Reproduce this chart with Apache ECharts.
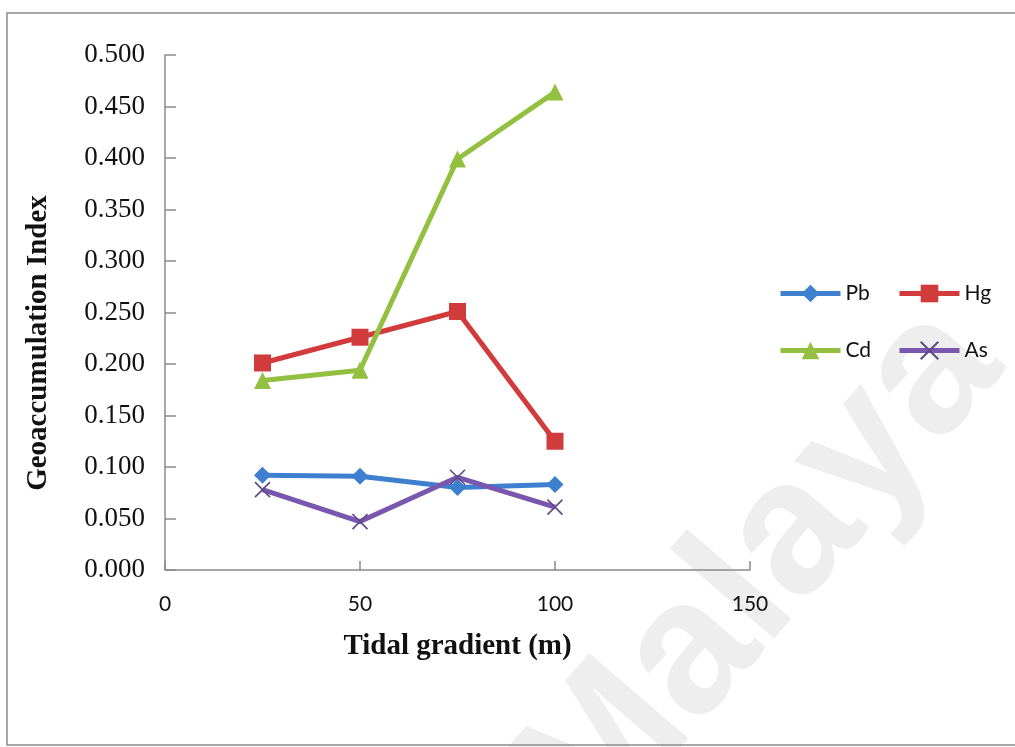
<!DOCTYPE html>
<html>
<head>
<meta charset="utf-8">
<script src="https://cdn.jsdelivr.net/npm/echarts@6/dist/echarts.min.js"></script>
<style>
  html, body { margin: 0; padding: 0; background: #ffffff; }
  #chart { width: 1015px; height: 747px; }
</style>
</head>
<body>
<div id="chart"></div>
<script>
// Tidal gradient positions (m)
const distances = [25, 50, 75, 100];

// Geoaccumulation index per metal
const pbValues = [0.092, 0.091, 0.080, 0.083];
const hgValues = [0.201, 0.226, 0.251, 0.125];
const cdValues = [0.184, 0.194, 0.399, 0.464];
const asValues = [0.078, 0.047, 0.090, 0.061];

const seriesNames = ['Pb', 'Hg', 'Cd', 'As'];
const seriesColors = ['#3F7FCF', '#D23B3B', '#93C040', '#7A57AE'];

const xTitle = 'Tidal gradient (m)';
const yTitle = 'Geoaccumulation Index';

const pairs = vals => distances.map((d, i) => [d, vals[i]]);

const crossPath = 'path://M0,0L10,10M10,0L0,10';

const seriesList = [
  { name: 'Pb', data: pairs(pbValues), symbol: 'diamond', symbolSize: 17 },
  { name: 'Hg', data: pairs(hgValues), symbol: 'rect', symbolSize: 17 },
  { name: 'Cd', data: pairs(cdValues), symbol: 'triangle', symbolSize: 17 },
  { name: 'As', data: pairs(asValues), symbol: crossPath, symbolSize: 15 }
].map((s, i) => {
  const isCross = s.name === 'As';
  return {
    type: 'line',
    name: s.name,
    data: s.data,
    symbol: s.symbol,
    symbolSize: s.symbolSize,
    showSymbol: true,
    z: 2 + i,
    lineStyle: { color: seriesColors[i], width: 5 },
    itemStyle: isCross
      ? { color: 'rgba(0,0,0,0)', borderColor: '#5E4A86', borderWidth: 1.6 }
      : { color: seriesColors[i], borderWidth: 0 },
    emphasis: { disabled: true },
    animation: false
  };
});

// Legend laid out as a two-column block
const legendSpots = [
  { left: 778, top: 283 },
  { left: 897, top: 283 },
  { left: 778, top: 340 },
  { left: 897, top: 340 }
];
const legends = seriesNames.map((n, i) => ({
  data: [n],
  left: legendSpots[i].left,
  top: legendSpots[i].top,
  padding: 0,
  itemWidth: 60,
  itemHeight: 22,
  itemGap: 0,
  lineStyle: { width: 5 },
  textStyle: { fontFamily: 'Lato, "Open Sans", sans-serif', fontSize: 21, color: '#111' },
  selectedMode: false
}));

const serifBold = { fontFamily: '"Liberation Serif", "Times New Roman", serif', fontWeight: 'bold', fontSize: 29, color: '#111' };

const chart = echarts.init(document.getElementById('chart'), null, { renderer: 'canvas' });

chart.setOption({
  backgroundColor: '#ffffff',
  animation: false,
  graphic: [
    {
      type: 'rect',
      z: -10,
      shape: { x: 7, y: 13, width: 1030, height: 732 },
      style: { fill: 'none', stroke: '#8a8a8a', lineWidth: 1.5 },
      silent: true
    },
    {
      type: 'text',
      z: -20,
      x: 895,
      y: 272,
      rotation: 0.86,
      style: {
        text: 'of Malaya',
        fill: '#eeeeee',
        font: 'bold 190px "Liberation Sans", Arial, sans-serif',
        textAlign: 'right',
        textVerticalAlign: 'top'
      },
      silent: true
    },
    {
      type: 'text',
      x: 39,
      y: 343,
      rotation: Math.PI / 2,
      style: {
        text: yTitle,
        fill: '#111',
        font: 'bold 29px "Liberation Serif", "Times New Roman", serif',
        textAlign: 'center',
        textVerticalAlign: 'middle'
      },
      silent: true
    }
  ],
  legend: legends,
  grid: { left: 165, top: 55, width: 585, height: 515, containLabel: false },
  xAxis: {
    type: 'value',
    min: 0,
    max: 150,
    interval: 50,
    name: xTitle,
    nameLocation: 'middle',
    nameGap: 62,
    nameTextStyle: serifBold,
    axisLine: { lineStyle: { color: '#8a8a8a', width: 1.5 } },
    axisTick: { inside: true, length: 9, lineStyle: { color: '#8a8a8a', width: 1.5 } },
    axisLabel: { margin: 24, fontFamily: 'Lato, "Open Sans", sans-serif', fontSize: 21, color: '#111' },
    splitLine: { show: false }
  },
  yAxis: {
    type: 'value',
    min: 0,
    max: 0.5,
    interval: 0.05,
    axisLine: { show: true, lineStyle: { color: '#8a8a8a', width: 1.5 } },
    axisTick: { show: true, inside: true, length: 11, lineStyle: { color: '#8a8a8a', width: 1.5 } },
    axisLabel: {
      margin: 20,
      fontFamily: '"Liberation Serif", "Times New Roman", serif',
      fontSize: 27,
      color: '#111',
      formatter: v => v.toFixed(3)
    },
    splitLine: { show: false }
  },
  series: seriesList
});
</script>
</body>
</html>
